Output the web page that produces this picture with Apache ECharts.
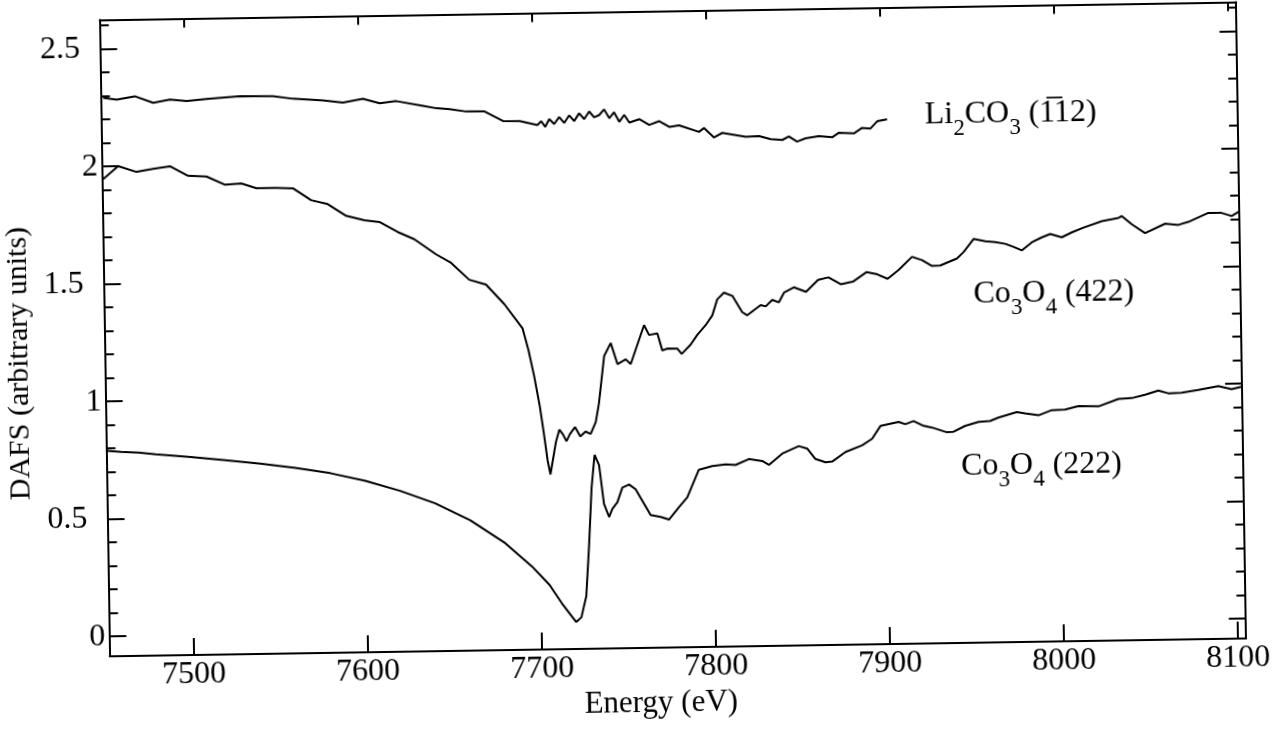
<!DOCTYPE html>
<html><head><meta charset="utf-8">
<script src="https://cdn.jsdelivr.net/npm/echarts@6/dist/echarts.min.js"></script>
<style>
html,body{margin:0;padding:0;background:#fff;overflow:hidden;}
#chart{width:1273px;height:731px;transform-origin:194px 651px;transform:rotate(-0.9deg);}
</style></head><body><div id="chart"></div>
<script>
const xTicks = [7500, 7600, 7700, 7800, 7900, 8000, 8100];
const yMajor = [0, 0.5, 1, 1.5, 2, 2.5];
const yMinor = [0.1,0.2,0.3,0.4,0.6,0.7,0.8,0.9,1.1,1.2,1.3,1.4,1.6,1.7,1.8,1.9,2.1,2.2,2.3,2.4,2.6];
const seriesNames = ['Li2CO3 (-112)', 'Co3O4 (422)', 'Co3O4 (222)'];

const li2co3 = [[7452.9,2.292],[7460.6,2.284],[7471.1,2.297],[7481.6,2.268],[7491.2,2.281],[7500.8,2.273],[7512.2,2.281],[7531.4,2.290],[7550.5,2.288],[7561.9,2.276],[7579.1,2.267],[7590.6,2.256],[7602.1,2.271],[7611.7,2.251],[7621.3,2.259],[7636.5,2.237],[7644.2,2.226],[7651.8,2.221],[7661.4,2.210],[7671.9,2.209],[7682.4,2.167],[7692.0,2.166],[7702.1,2.148],[7704.4,2.164],[7706.6,2.139],[7709.0,2.172],[7711.8,2.151],[7714.7,2.180],[7717.6,2.155],[7720.5,2.187],[7723.3,2.162],[7726.2,2.195],[7729.1,2.170],[7732.0,2.202],[7734.8,2.177],[7737.7,2.186],[7740.6,2.210],[7743.5,2.172],[7746.3,2.197],[7749.2,2.156],[7752.1,2.185],[7755.0,2.152],[7760.7,2.166],[7766.4,2.141],[7772.2,2.156],[7777.9,2.131],[7783.5,2.137],[7794.9,2.108],[7797.8,2.124],[7803.5,2.083],[7808.3,2.102],[7821.7,2.084],[7829.4,2.086],[7836.0,2.072],[7842.7,2.068],[7846.5,2.082],[7851.2,2.060],[7856.1,2.073],[7863.7,2.082],[7871.4,2.076],[7875.3,2.095],[7883.9,2.091],[7888.7,2.114],[7893.5,2.111],[7897.4,2.141],[7903.1,2.149]];

const co422 = [[7452.2,1.947],[7460.9,2.001],[7471.4,1.975],[7481.0,1.987],[7490.6,1.997],[7501.0,1.955],[7511.5,1.951],[7521.9,1.915],[7531.5,1.919],[7540.1,1.898],[7551.6,1.898],[7561.1,1.895],[7571.5,1.843],[7581.0,1.825],[7591.5,1.774],[7601.9,1.754],[7610.5,1.746],[7620.9,1.702],[7630.4,1.670],[7642.8,1.604],[7651.3,1.567],[7661.6,1.494],[7671.2,1.472],[7681.5,1.388],[7691.8,1.283],[7695,1.19],[7698,1.08],[7701,0.95],[7703,0.84],[7705,0.72],[7706.5,0.66],[7708,0.72],[7710,0.80],[7712,0.85],[7714,0.83],[7716,0.80],[7718,0.83],[7721,0.86],[7724,0.82],[7727,0.84],[7730,0.83],[7733,0.88],[7735,0.96],[7738.4,1.160],[7742.3,1.215],[7746.0,1.125],[7750.8,1.145],[7753.6,1.124],[7756.6,1.186],[7761.6,1.289],[7764.4,1.247],[7769.2,1.253],[7771.9,1.180],[7774.8,1.188],[7780.5,1.187],[7783.0,1.164],[7788.2,1.203],[7792.1,1.244],[7797.0,1.285],[7800.9,1.326],[7803.9,1.394],[7807.8,1.422],[7812.6,1.408],[7818.1,1.338],[7821.0,1.324],[7828.8,1.367],[7831.7,1.361],[7835.5,1.388],[7839.3,1.377],[7842.3,1.418],[7848,1.44],[7855,1.42],[7862,1.47],[7868,1.48],[7875,1.45],[7882,1.46],[7890,1.50],[7896,1.49],[7902,1.47],[7908.4,1.507],[7916.2,1.562],[7921.9,1.547],[7927.6,1.522],[7932.4,1.523],[7942.0,1.552],[7945.9,1.579],[7951.8,1.634],[7958.5,1.623],[7964.2,1.619],[7969.9,1.611],[7974.7,1.597],[7979.3,1.582],[7985.2,1.616],[7990.9,1.636],[7995.8,1.650],[8002.4,1.635],[8008.2,1.655],[8015.0,1.675],[8025.5,1.701],[8035.2,1.714],[8037.1,1.721],[8042.7,1.686],[8050.3,1.647],[8061.9,1.686],[8069.5,1.680],[8075.3,1.692],[8086.8,1.729],[8094.4,1.728],[8100.2,1.714],[8104.6,1.733]];

const co222 = [[7452,0.79],[7460,0.785],[7470,0.78],[7480,0.772],[7500,0.758],[7520,0.742],[7540,0.725],[7560,0.705],[7580,0.68],[7600,0.645],[7620,0.60],[7640,0.545],[7660,0.47],[7680,0.37],[7695,0.27],[7705,0.19],[7712,0.11],[7717,0.06],[7720,0.03],[7723,0.05],[7726,0.14],[7728,0.35],[7730,0.60],[7732,0.74],[7734.5,0.697],[7737.0,0.531],[7739.8,0.475],[7741.7,0.509],[7744.7,0.537],[7747.7,0.599],[7751.6,0.612],[7755.3,0.591],[7759.0,0.542],[7763.7,0.480],[7769.4,0.472],[7774.2,0.460],[7780.0,0.512],[7784.9,0.553],[7791.8,0.670],[7799.5,0.685],[7807.2,0.691],[7812.9,0.688],[7820.6,0.712],[7828.3,0.703],[7832.1,0.686],[7839.8,0.733],[7849.4,0.764],[7854.2,0.753],[7858.9,0.708],[7864.7,0.693],[7868.5,0.696],[7876.2,0.736],[7885.8,0.763],[7891.6,0.790],[7896.5,0.844],[7907.0,0.860],[7910.8,0.850],[7915.6,0.863],[7921.3,0.842],[7926.1,0.834],[7934.6,0.813],[7938.5,0.815],[7945.2,0.839],[7952.9,0.855],[7959.6,0.858],[7964.4,0.872],[7975.0,0.894],[7979.8,0.888],[7987.4,0.879],[7995.1,0.900],[8002.8,0.902],[8010.5,0.916],[8022.0,0.913],[8033.5,0.943],[8041.2,0.946],[8048.8,0.959],[8056.5,0.976],[8062.2,0.964],[8069.9,0.966],[8079.4,0.976],[8091.0,0.991],[8098.6,0.977],[8104.3,0.987]];

const X_MIN = 7451.6, X_MAX = 8104.7, Y_MIN = -0.085, Y_MAX = 2.624;
const FONT = "'Liberation Serif', 'Times New Roman', serif";
const BLACK = '#000';

const chart = echarts.init(document.getElementById('chart'), null, {renderer: 'canvas'});

function xAx(pos, withLabels, len) {
  return {
    type: 'value', position: pos, min: X_MIN, max: X_MAX,
    axisLine: {show: true, onZero: false, lineStyle: {color: BLACK, width: 2}},
    axisTick: {show: true, inside: true, length: len, customValues: xTicks, lineStyle: {color: BLACK, width: 2}},
    axisLabel: withLabels ? {show: true, customValues: xTicks, color: BLACK, fontFamily: FONT, fontSize: 32, margin: 3,
      formatter: v => String(v)} : {show: false},
    splitLine: {show: false},
    name: withLabels ? 'Energy (eV)' : '',
    nameLocation: 'middle', nameGap: 36,
    nameTextStyle: {color: BLACK, fontFamily: FONT, fontSize: 31, padding: [0, 35, 0, 0]}
  };
}
function yAx(pos, ticks, len, withLabels, showLine) {
  return {
    type: 'value', position: pos, min: Y_MIN, max: Y_MAX,
    axisLine: {show: showLine, onZero: false, lineStyle: {color: BLACK, width: 2}},
    axisTick: {show: true, inside: true, length: len, customValues: ticks, lineStyle: {color: BLACK, width: 2}},
    axisLabel: withLabels ? {
      show: true, customValues: ticks, color: BLACK, fontFamily: FONT, fontSize: 32, margin: 4,
      formatter: v => Number.isInteger(v) ? '{i|' + v + '}' : '{d|' + v + '}',
      rich: {i: {fontFamily: FONT, fontSize: 32, color: BLACK}, d: {fontFamily: FONT, fontSize: 32, color: BLACK, padding: [0, 16, 0, 0]}}
    } : {show: false},
    splitLine: {show: false},
    name: withLabels ? 'DAFS (arbitrary units)' : '',
    nameLocation: 'middle', nameGap: 64,
    nameTextStyle: {color: BLACK, fontFamily: FONT, fontSize: 30, padding: [0, 48, 0, 0]}
  };
}

const rich = {
  m: {fontFamily: FONT, fontSize: 32, lineHeight: 36, color: BLACK, verticalAlign: 'top'},
  s: {fontFamily: FONT, fontSize: 23, lineHeight: 23, color: BLACK, verticalAlign: 'top', padding: [18, 0, 0, 0]}
};

const option = {
  animation: false,
  backgroundColor: '#fff',
  grid: {left: 109.6, top: 18.6, width: 1138, height: 653, containLabel: false},
  xAxis: [xAx('bottom', true, 17), xAx('top', false, 9)],
  yAxis: [yAx('left', yMajor, 17, true, true), yAx('left', yMinor, 9, false, false),
          yAx('right', yMajor, 17, false, true), yAx('right', yMinor, 9, false, false)],
  series: [
    {name: seriesNames[0], type: 'line', data: li2co3, showSymbol: false, xAxisIndex: 0, yAxisIndex: 0, lineStyle: {color: BLACK, width: 2}, z: 3},
    {name: seriesNames[1], type: 'line', data: co422, showSymbol: false, xAxisIndex: 0, yAxisIndex: 0, lineStyle: {color: BLACK, width: 2}, z: 3},
    {name: seriesNames[2], type: 'line', data: co222, showSymbol: false, xAxisIndex: 0, yAxisIndex: 0, lineStyle: {color: BLACK, width: 2}, z: 3}
  ],
  graphic: [
    {type: 'text', left: 933, top: 111, style: {text: '{m|Li}{s|2}{m|CO}{s|3}{m| (1\u0305' + '12)}', rich: rich}},
    {type: 'text', left: 979, top: 291, style: {text: '{m|Co}{s|3}{m|O}{s|4}{m| (422)}', rich: rich}},
    {type: 'text', left: 964, top: 463, style: {text: '{m|Co}{s|3}{m|O}{s|4}{m| (222)}', rich: rich}}
  ]
};
chart.setOption(option);
</script>
</body></html>
